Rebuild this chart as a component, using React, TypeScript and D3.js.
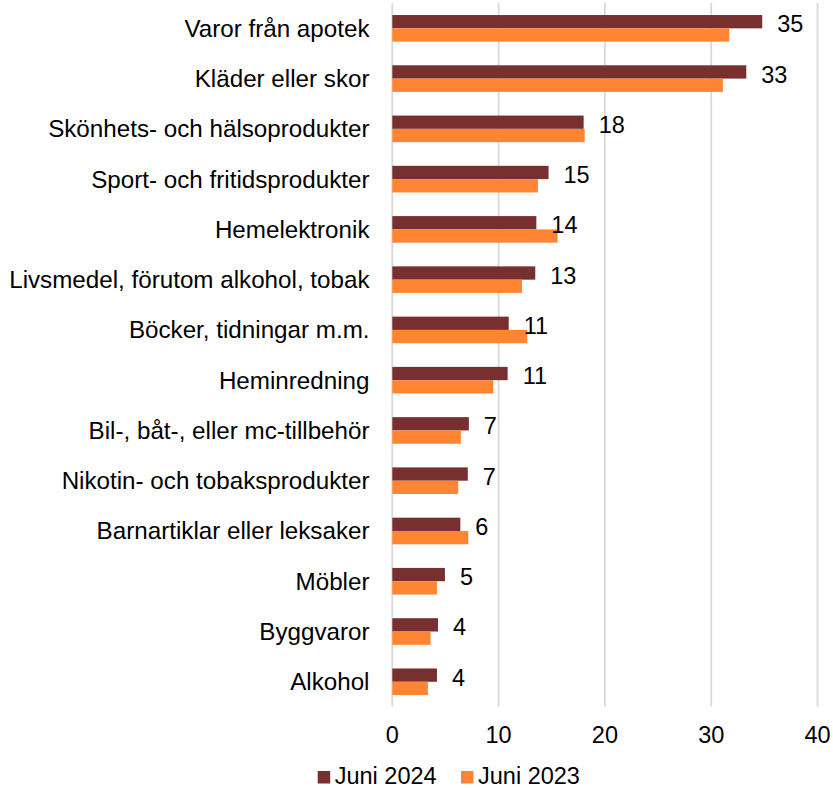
import React from "react";
import * as d3 from "d3";

const categories = [
  "Varor från apotek",
  "Kläder eller skor",
  "Skönhets- och hälsoprodukter",
  "Sport- och fritidsprodukter",
  "Hemelektronik",
  "Livsmedel, förutom alkohol, tobak",
  "Böcker, tidningar m.m.",
  "Heminredning",
  "Bil-, båt-, eller mc-tillbehör",
  "Nikotin- och tobaksprodukter",
  "Barnartiklar eller leksaker",
  "Möbler",
  "Byggvaror",
  "Alkohol",
];
const values2024 = [34.8, 33.3, 18.0, 14.7, 13.55, 13.45, 10.95, 10.85, 7.2, 7.1, 6.4, 4.95, 4.3, 4.2];
const values2023 = [31.7, 31.1, 18.1, 13.7, 15.55, 12.2, 12.7, 9.5, 6.45, 6.2, 7.15, 4.2, 3.6, 3.35];
const labels2024 = ["35", "33", "18", "15", "14", "13", "11", "11", "7", "7", "6", "5", "4", "4"];
const xTicks = [0, 10, 20, 30, 40];
const seriesNames = ["Juni 2024", "Juni 2023"];
const colors = ["#772F30", "#FF8533"];

const W = 833;
const H = 788;
const FONT = "Arial, 'Liberation Sans', sans-serif";
const FS = 23.5;
const FS_CAT = 24.2;

export default function App() {
  const x = d3.scaleLinear().domain([0, 40]).range([392.3, 817.5]);
  const y = d3.scaleBand<string>().domain(categories).range([3.2, 706.9]).padding(0);
  const barH = 13.3;

  return (
    <svg
      width={W}
      height={H}
      style={{ position: "absolute", left: 0, top: 0, background: "#fff" }}
      fontFamily={FONT}
    >
      {xTicks.map((t) => (
        <line
          key={"g" + t}
          x1={x(t)}
          x2={x(t)}
          y1={3}
          y2={706.5}
          stroke="#d9d9d9"
          strokeWidth={1.8}
        />
      ))}
      {categories.map((c, i) => {
        const cy = (y(c) as number) + y.bandwidth() / 2;
        return (
          <g key={c}>
            <rect
              x={x(0)}
              y={cy - barH}
              width={x(values2024[i]) - x(0)}
              height={barH}
              fill={colors[0]}
            />
            <rect
              x={x(0)}
              y={cy}
              width={x(values2023[i]) - x(0)}
              height={barH}
              fill={colors[1]}
            />
            <text
              x={369.5}
              y={cy}
              dy="0.35em"
              textAnchor="end"
              fontSize={FS_CAT}
              fill="#000"
            >
              {c}
            </text>
            <text
              x={x(values2024[i]) + 15}
              y={cy - barH / 2}
              dy="0.45em"
              textAnchor="start"
              fontSize={FS}
              fill="#000"
            >
              {labels2024[i]}
            </text>
          </g>
        );
      })}
      {xTicks.map((t) => (
        <text
          key={"t" + t}
          x={x(t)}
          y={743}
          textAnchor="middle"
          fontSize={FS}
          fill="#000"
        >
          {t}
        </text>
      ))}
      {seriesNames.map((s, i) => {
        const lx = [317.7, 461][i];
        return (
          <g key={s}>
            <rect x={lx} y={771} width={12.5} height={12.5} fill={colors[i]} />
            <text x={lx + 17} y={783.5} fontSize={FS} fill="#000">
              {s}
            </text>
          </g>
        );
      })}
    </svg>
  );
}
